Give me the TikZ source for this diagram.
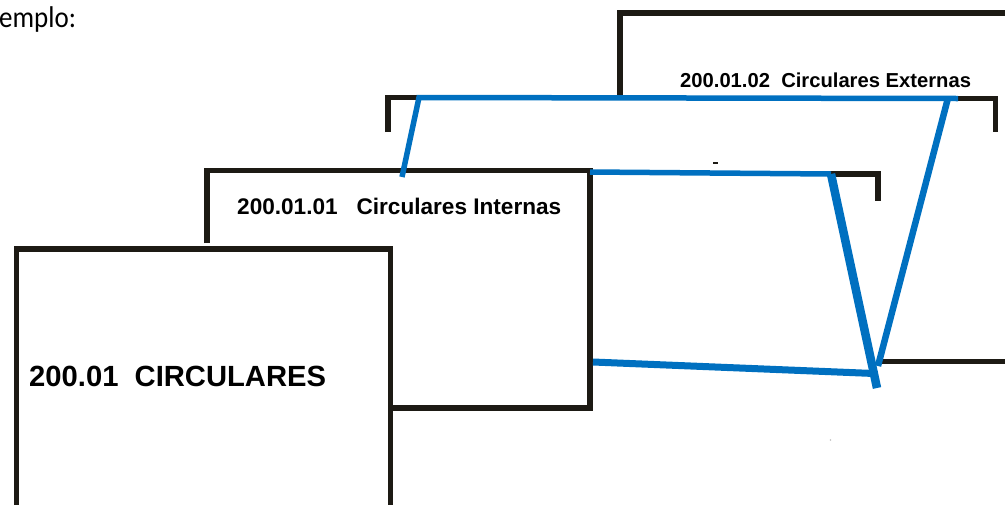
\documentclass[tikz,border=0pt]{standalone}
\usepackage{fontspec}
\setmainfont{Liberation Sans}
\newfontfamily\notefont{Carlito}
\definecolor{ink}{HTML}{1D1A14}
\definecolor{link}{HTML}{0070C0}
\begin{document}
\begin{tikzpicture}[x=1pt,y=-1pt,
  frame/.style={draw=ink,line width=5.5pt,line join=miter},
  wire/.style={draw=link,line width=5.5pt},
  caption/.style={anchor=base west,inner sep=0pt}]
\useasboundingbox (0,0) rectangle (1005,504);

% heading fragment
\node[caption,font=\notefont\fontsize{30}{32}\selectfont] (head) at (-1,27)
  {\scalebox{0.9}[1]{emplo:}};

% rear folder: 200.01.02
\coordinate (ext-bl) at (620,96);
\coordinate (ext-tl) at (620,13);
\coordinate (ext-tr) at (1012,13);
\draw[frame] (ext-bl) -- (ext-tl) -- (ext-tr);
\draw[frame] (878,361.5) -- (1012,361.5);
\node[caption,font=\bfseries\fontsize{20.2}{22}\selectfont] (ext) at (680,87)
  {200.01.02\ \ Circulares Externas};

% open frame corners
\draw[frame] (388,132) -- (388,97.5) -- (420,97.5);
\draw[frame] (957,98.5) -- (995.5,98.5) -- (995.5,132);

% middle folder: 200.01.01
\draw[frame] (207,243) -- (207,170.5) -- (590,170.5) -- (590,408) -- (385,408);
\node[caption,font=\bfseries\fontsize{22.6}{24}\selectfont] (int) at (237,214)
  {200.01.01\ \ \ Circulares Internas};
\draw[frame] (829,174) -- (878,174) -- (878,201);

% blue perspective lines
\coordinate (a1) at (402,177);
\coordinate (a2) at (419,97.5);
\coordinate (a3) at (958,98.5);
\coordinate (a4) at (948,98);
\coordinate (v) at (878,366);
\draw[wire] (a1) -- (a2) -- (a3);
\draw[wire,line width=6.5pt] (a4) -- (v);
\coordinate (b1) at (590,172);
\coordinate (b2) at (831,174);
\coordinate (b3) at (877,388);
\coordinate (c1) at (593,362);
\coordinate (c2) at (874,373.5);
\draw[wire] (b1) -- (b2);
\draw[wire,line width=8.5pt] (b2) -- (b3);
\draw[wire,line width=7pt] (c1) -- (c2);

% small marks
\draw[ink,line width=2pt] (713,163) -- (718,163);
\fill[black!25] (830.5,440) circle (0.8);

% front folder: 200.01
\node[frame,fill=white,anchor=north west,minimum width=374pt,minimum height=300pt,inner sep=0pt]
  (circ) at (13.5,246) {};
\node[caption,font=\bfseries\fontsize{29.2}{31}\selectfont] (circ-label) at (29,386.7)
  {200.01\ \ CIRCULARES};
\end{tikzpicture}
\end{document}
